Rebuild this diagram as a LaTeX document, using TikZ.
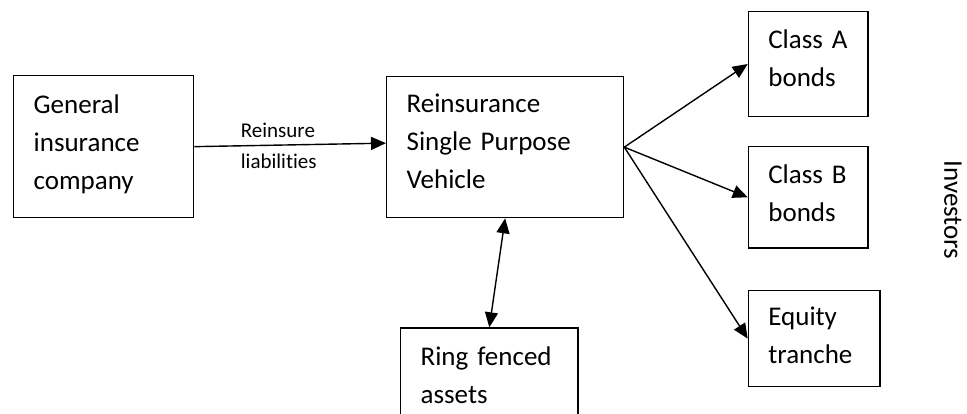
\documentclass[tikz,border=0pt]{standalone}
\usepackage{fontspec}
\setmainfont{Carlito}[Ligatures=NoCommon]
\usetikzlibrary{arrows.meta}
\tikzset{
    box/.style={draw, line width=1.3pt, anchor=north west, align=left,
        inner xsep=20pt, inner ysep=0pt, font=\fontsize{27}{38}\selectfont},
    link/.style={line width=1.4pt, ->},
}
\begin{document}
\begin{tikzpicture}[x=1pt, y=-1pt, >={Triangle[length=15pt,width=13pt]}]
            \useasboundingbox (0,0) rectangle (967,413);
            \clip (0,0) rectangle (967,413);
            \node[box, text width=140pt, text height=37.7pt, text depth=104.3pt] (gic) at (13,75) {General\\insurance\\company};
            \node[box, text width=197pt, text height=35.7pt, text depth=105.3pt] (rspv) at (386,76) {Reinsurance\\Single Purpose\\Vehicle};
            \node[box, text width=79.6pt, text height=37pt, text depth=68.3pt] (classA) at (747.7,10.7) {Class A\\bonds};
            \node[box, text width=79.6pt, text height=37.3pt, text depth=64pt] (classB) at (747.7,146) {Class B\\bonds};
            \node[box, text width=91.6pt, text height=35pt, text depth=61pt] (equity) at (747.7,290) {Equity\\tranche};
            \node[box, text width=137.3pt, text height=37.7pt, text depth=80pt] (ringfenced) at (400,327.3) {Ring fenced\\assets};
            \node[font=\fontsize{21}{31}\selectfont, align=left, text width=90pt, inner sep=0pt, anchor=base west] (reinsure) at (240.7,137.3) {Reinsure\\liabilities};
            \node[font=\fontsize{27}{38}\selectfont, rotate=-90, inner sep=0pt] (investors) at (953,210) {Investors};
            \draw[link] (gic.east) -- ([yshift=4pt]rspv.west);
            \foreach \tranche in {classA, classB, equity}
                \draw[link] (rspv.east) -- (\tranche.west);
            \draw[link, <->] (rspv.south) -- (ringfenced.north);
        \end{tikzpicture}
\end{document}
